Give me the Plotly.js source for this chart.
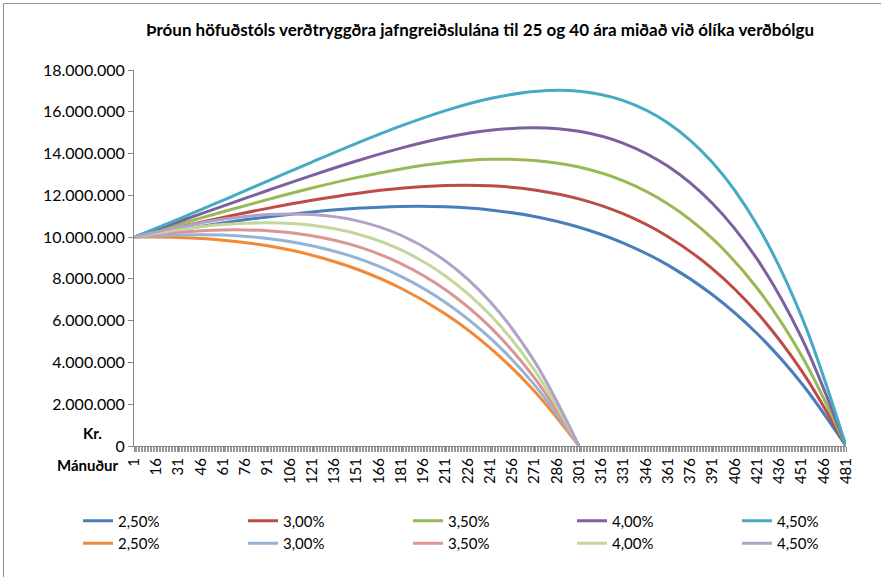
<!DOCTYPE html>
<html>
<head>
<meta charset="utf-8">
<script src="https://cdn.plot.ly/plotly-3.0.1.min.js"></script>
<style>
html,body{margin:0;padding:0;background:#fff;}
#chart{width:881px;height:577px;}
</style>
</head>
<body>
<div id="chart"></div>
<script>
// Month numbers at which the values were read
var months40 = [1,31,61,91,121,151,181,211,241,271,301,331,361,391,421,451,481];
var months25 = [1,31,61,91,121,151,181,211,241,271,301];

// 40-year loans (kr.)
var loan40_250 = [10000000,10353000,10680000,10968000,11206000,11379000,11468000,11451000,11301000,10989000,10475000,9716000,8659000,7240000,5386000,3007000,0];
var loan40_300 = [10000000,10480000,10942000,11376000,11765000,12093000,12336000,12468000,12457000,12260000,11830000,11108000,10020000,8481000,6386000,3609000,0];
var loan40_350 = [10000000,10608000,11211000,11796000,12349000,12847000,13265000,13571000,13723000,13672000,13353000,12690000,11586000,9926000,7565000,4328000,0];
var loan40_400 = [10000000,10736000,11484000,12231000,12958000,13645000,14260000,14765000,15112000,15238000,15063000,14488000,13389000,11609000,8955000,5185000,0];
var loan40_450 = [10000000,10866000,11763000,12678000,13595000,14488000,15324000,16058000,16633000,16974000,16981000,16531000,15461000,13567000,10592000,6207000,0];

// 25-year loans (kr.)
var loan25_250 = [10000000,9985000,9855000,9582000,9135000,8473000,7551000,6314000,4697000,2623000,0];
var loan25_300 = [10000000,10107000,10098000,9938000,9590000,9004000,8122000,6875000,5177000,2927000,0];
var loan25_350 = [10000000,10231000,10345000,10306000,10066000,9566000,8734000,7483000,5704000,3263000,0];
var loan25_400 = [10000000,10355000,10598000,10685000,10563000,10160000,9389000,8141000,6281000,3637000,0];
var loan25_450 = [10000000,10479000,10855000,11077000,11082000,10788000,10089000,8854000,6913000,4052000,0];

var seriesNames = ['2,50%','3,00%','3,50%','4,00%','4,50%'];
var xTickVals = [1,16,31,46,61,76,91,106,121,136,151,166,181,196,211,226,241,256,271,286,301,316,331,346,361,376,391,406,421,436,451,466,481];
var xTickText = ['1','16','31','46','61','76','91','106','121','136','151','166','181','196','211','226','241','256','271','286','301','316','331','346','361','376','391','406','421','436','451','466','481'];
var yTickVals = [0,2000000,4000000,6000000,8000000,10000000,12000000,14000000,16000000,18000000];

var colors40 = ['#4A7EBB','#BE4B48','#98B954','#7D60A0','#46AAC5'];
var colors25 = ['#F08A38','#95B3D7','#D99694','#C3D69B','#B3A2C7'];

var data40 = [loan40_250, loan40_300, loan40_350, loan40_400, loan40_450];
var data25 = [loan25_250, loan25_300, loan25_350, loan25_400, loan25_450];

var legendIds = ['legend','legend2','legend3','legend4','legend5'];

var traces = [];
data40.forEach(function(v, i){
  traces.push({x: months40, y: v, type:'scatter', mode:'lines', name: seriesNames[i],
    legend: legendIds[i], legendgroup: 'a' + i,
    line:{color: colors40[i], width:3, shape:'spline', smoothing:1}, hoverinfo:'skip'});
});
data25.forEach(function(v, i){
  traces.push({x: months25, y: v, type:'scatter', mode:'lines', name: seriesNames[i],
    legend: legendIds[i], legendgroup: 'b' + i,
    line:{color: colors25[i], width:3, shape:'spline', smoothing:1}, hoverinfo:'skip'});
});

var W = 881, H = 577;
var L = 134, R = 846, T = 70, B = 446.5;
function px(x){ return (x - L) / (R - L); }
function py(y){ return (B - y) / (B - T); }

var font = 'Lato, "Open Sans", sans-serif';

var layout = {
  width: W, height: H,
  margin: {l: L, r: W - R, t: T, b: H - B, pad: 0, autoexpand: false},
  paper_bgcolor: '#fff', plot_bgcolor: '#fff',
  separators: ',.',
  font: {family: font, size: 14, color: '#000'},
  title: {text: '<b>Þróun höfuðstóls verðtryggðra jafngreiðslulána til 25 og 40 ára miðað við ólíka verðbólgu</b>',
    font: {family: font, size: 17, color: '#000'}, xref: 'paper', x: px(480), xanchor: 'center', yref: 'container', y: 1 - 30/H, yanchor: 'middle'},
  showlegend: true,
  xaxis: {type: 'linear', range: [1, 481], showgrid: false, zeroline: false,
    showline: true, linecolor: '#868686', linewidth: 1,
    tickmode: 'array', tickvals: xTickVals, ticktext: xTickText, tickangle: -90,
    ticks: 'outside', ticklen: 5, tickcolor: '#868686',
    minor: {dtick: 1, tick0: 1, ticks: 'outside', ticklen: 5, tickcolor: '#9a9a9a', tickwidth: 1, showgrid: false},
    tickfont: {family: font, size: 15, color: '#000'}, fixedrange: true},
  yaxis: {range: [0, 18000000], showgrid: false, zeroline: false,
    showline: true, linecolor: '#868686', linewidth: 1,
    tickmode: 'array', tickvals: yTickVals, tickformat: ',d',
    ticks: 'outside', ticklen: 5, tickcolor: '#868686',
    tickfont: {family: font, size: 16, color: '#000'}, fixedrange: true},
  annotations: [
    {text: '<b>Kr.</b>', xref: 'paper', yref: 'paper', x: px(92), y: py(433), showarrow: false,
      font: {family: font, size: 15, color: '#000'}, xanchor: 'center', yanchor: 'middle'},
    {text: '<b>Mánuður</b>', xref: 'paper', yref: 'paper', x: px(88), y: py(466), showarrow: false,
      font: {family: font, size: 15, color: '#000'}, xanchor: 'center', yanchor: 'middle'}
  ],
  shapes: [
    {type: 'rect', xref: 'paper', yref: 'paper', x0: px(3.5), x1: px(1000), y0: py(3.5), y1: py(700),
      line: {color: '#8c8c8c', width: 1}, fillcolor: 'rgba(0,0,0,0)', layer: 'below'}
  ]
};

var colStarts = [86, 251, 416, 580, 745];
legendIds.forEach(function(id, k){
  layout[id] = {orientation: 'v', xref: 'paper', yref: 'paper',
    x: px(colStarts[k] - 8), xanchor: 'left', y: py(505), yanchor: 'top',
    tracegroupgap: 5, itemwidth: 30, borderwidth: 0,
    font: {family: font, size: 15, color: '#000'}, bgcolor: 'rgba(0,0,0,0)', traceorder: 'normal'};
});

Plotly.newPlot('chart', traces, layout, {displayModeBar: false, staticPlot: true});
</script>
</body>
</html>
